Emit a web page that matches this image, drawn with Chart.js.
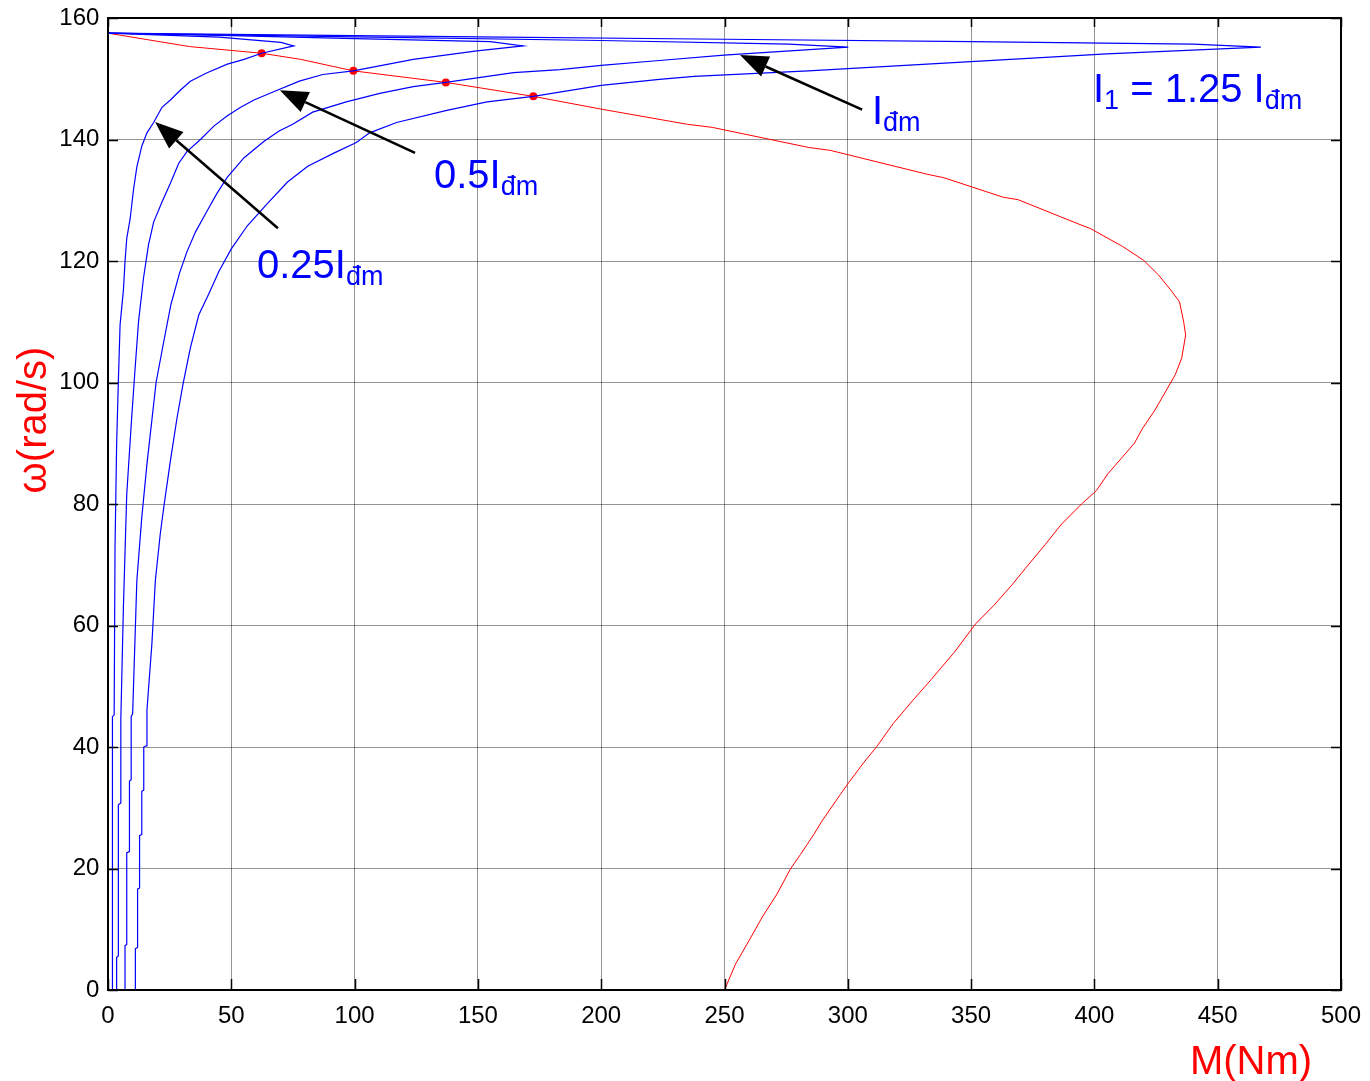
<!DOCTYPE html>
<html><head><meta charset="utf-8">
<script src="https://cdn.jsdelivr.net/npm/chart.js@4.4.0/dist/chart.umd.min.js"></script>
<style>html,body{margin:0;padding:0;background:#fff}</style>
</head><body>
<canvas id="c" width="1370" height="1081"></canvas>
<script>
// ---- data: [M (Nm), omega (rad/s)] ----
const xTickValues = [0,50,100,150,200,250,300,350,400,450,500];
const yTickValues = [0,20,40,60,80,100,120,140,160];

const naturalCurve = [[0,157.5],[33,155.3],[62.3,154.2],[78,153.2],[99.5,151.3],[137,149.4],[172.5,147.1],[200,145.0],[235,142.5],[245,142.0],[284,138.7],[293,138.2],[332,134.3],[339,133.7],[363,130.5],[369,130.1],[393.5,126.1],[398.6,125.3],[411.4,122.4],[420,120.1],[426,117.7],[431,115.2],[434.5,113.3],[436.2,110.0],[437,107.8],[435.4,104.0],[432.8,101.3],[428.3,98.1],[424.3,95.3],[419.6,92.5],[416.2,90],[410.9,87.5],[405.5,85],[400.8,82.2],[394.8,80],[386.7,76.7],[380,73.3],[372,69.4],[366.6,66.7],[359.2,63.3],[351.9,60.3],[343.2,55.6],[333.8,51.1],[326.2,47.6],[318.5,43.9],[311.8,40.1],[306.4,37.4],[300.3,34.1],[297,32.2],[289.5,27.8],[286.2,25.6],[280.8,22.3],[276.7,19.9],[271.3,15.8],[265.3,12.0],[259.9,8.1],[254.5,4.3],[250,0]];

const curve025 = [[1.8,0],[1.8,45],[2.5,45.3],[2.85,72.9],[3.5,89.8],[4.2,100.2],[4.9,109.5],[6.25,115.2],[6.9,119.9],[7.6,123.7],[9.0,127],[10.3,131.6],[11.7,135.5],[13.7,138.9],[15.8,141.1],[18.5,142.8],[21.9,145.3],[25.3,146.5],[29.3,148.1],[33.4,149.6],[40.2,151.0],[48.4,152.4],[55.2,153.2],[62.3,154.2],[75.3,155.4],[70.1,156.0],[45,156.85],[0,157.5]];

const curve05 = [[3.5,0],[3.5,5.4],[4.2,5.6],[4.2,30.5],[5.2,30.8],[5.2,44.5],[6.25,63.1],[7.6,81.6],[9.6,94.2],[11,102.4],[12.4,110.1],[14.4,117.2],[16.4,122.6],[18.5,126.4],[21.9,129.7],[25.3,132.8],[28.7,136.1],[32,138],[37.5,140],[42.9,142.2],[48.4,143.9],[53.8,145.3],[59.2,146.5],[67.4,147.9],[77.6,149.6],[87.1,150.7],[99.5,151.3],[123.8,153.2],[149.6,154.6],[168.3,155.4],[155,156.1],[100,156.6],[50,157.1],[0,157.5]];

const curve1 = [[6.9,0],[6.9,7.3],[7.6,7.5],[7.6,22.6],[8.7,22.8],[8.7,34.4],[9.4,34.6],[9.4,45],[10,45.5],[11.7,67.4],[13.7,77.8],[15.8,86.6],[19.5,100],[22.5,106.5],[25.5,112.8],[29,118],[32,121.5],[35.5,124.8],[40,128.1],[44,131],[48.4,133.8],[55.2,137],[63.3,139.7],[69.4,141.4],[74.9,142.5],[83,144.5],[96.6,146.2],[110.2,147.6],[123.8,148.7],[137,149.4],[164.5,151],[183.3,151.5],[200,152.2],[223.6,153],[249.8,153.9],[300.2,155.2],[276,155.7],[200,156.3],[100,156.9],[0,157.5]];

const curve125 = [[11.1,0],[11.1,6.8],[12,7],[12,16.6],[12.8,16.8],[12.8,25.4],[13.7,25.6],[13.7,32.7],[14.5,32.9],[14.5,40],[15.5,40.2],[15.8,46.1],[17.8,57],[19.2,67.4],[21.2,75.1],[22.8,80],[25.3,87.1],[28,94.2],[30.4,99.7],[33.4,105.7],[36.8,111.1],[40.9,114.6],[45,118.3],[50,122],[56.5,125.8],[64.7,129.5],[72.8,133],[81,135.6],[91.8,137.8],[100.7,139.5],[106.1,141.1],[117,142.8],[137.4,144.8],[153.7,146.2],[172.5,147.1],[200,148.9],[223.6,149.9],[237.7,150.4],[284,151.3],[344.6,152.7],[405,154.1],[467.5,155.2],[440,155.7],[350,156.1],[250,156.5],[150,156.9],[50,157.3],[0,157.5]];

const operatingPoints = [[62.3,154.2],[99.5,151.3],[137,149.4],[172.5,147.1]];

const toXY = a => a.map(p => ({x:p[0], y:p[1]}));
const BLUE = '#0000ff', RED = '#ff0000';

const annotations = {
  arrows: [
    {from:[68.9,125.4], to:[19.1,142.9]},
    {from:[124.5,137.8], to:[69.7,148.1]},
    {from:[305.8,144.9], to:[256.3,153.9]}
  ],
  labels: [
    {at:[60.4,117.2], parts:[['0.25I',0],['đm',1]]},
    {at:[132.2,132.0], parts:[['0.5I',0],['đm',1]]},
    {at:[309.8,142.5], parts:[['I',0],['đm',1]]},
    {at:[399.4,146.2], parts:[['I',0],['1',1],[' = 1.25 I',0],['đm',1]]}
  ]
};

const decor = {
  id:'decor',
  afterDraw(chart){
    const ctx = chart.ctx, a = chart.chartArea;
    const xs = chart.scales.x, ys = chart.scales.y;
    ctx.save();
    ctx.strokeStyle = '#000'; ctx.lineWidth = 1.5;
    ctx.beginPath();
    xTickValues.forEach(v => {
      const px = Math.round(xs.getPixelForValue(v))+0.5;
      ctx.moveTo(px, a.bottom); ctx.lineTo(px, a.bottom-11);
      ctx.moveTo(px, a.top); ctx.lineTo(px, a.top+9);
    });
    yTickValues.forEach(v => {
      const py = Math.round(ys.getPixelForValue(v))+0.5;
      ctx.moveTo(a.left, py); ctx.lineTo(a.left+10, py);
      ctx.moveTo(a.right, py); ctx.lineTo(a.right-10, py);
    });
    ctx.stroke();
    ctx.lineWidth = 2;
    ctx.strokeRect(a.left, a.top, a.right-a.left, a.bottom-a.top);
    annotations.arrows.forEach(ar => {
      const x1 = xs.getPixelForValue(ar.from[0]), y1 = ys.getPixelForValue(ar.from[1]);
      const x2 = xs.getPixelForValue(ar.to[0]), y2 = ys.getPixelForValue(ar.to[1]);
      const ang = Math.atan2(y2-y1, x2-x1), L = 28, W = 11;
      const bx = x2 - L*Math.cos(ang), by = y2 - L*Math.sin(ang);
      ctx.strokeStyle = '#000'; ctx.lineWidth = 2.5;
      ctx.beginPath(); ctx.moveTo(x1,y1); ctx.lineTo(bx,by); ctx.stroke();
      ctx.fillStyle = '#000';
      ctx.beginPath();
      ctx.moveTo(x2,y2);
      ctx.lineTo(bx + W*Math.sin(ang), by - W*Math.cos(ang));
      ctx.lineTo(bx - W*Math.sin(ang), by + W*Math.cos(ang));
      ctx.closePath(); ctx.fill();
    });
    ctx.fillStyle = BLUE; ctx.textBaseline = 'alphabetic'; ctx.textAlign = 'left';
    annotations.labels.forEach(lb => {
      let x = xs.getPixelForValue(lb.at[0]); const y = ys.getPixelForValue(lb.at[1]);
      lb.parts.forEach(([t, sub]) => {
        ctx.font = sub ? '27px "Liberation Sans", Arial, sans-serif' : '40px "Liberation Sans", Arial, sans-serif';
        ctx.fillText(t, x, sub ? y+7 : y);
        x += ctx.measureText(t).width;
      });
    });
    ctx.fillStyle = RED;
    ctx.font = '40px "Liberation Sans", Arial, sans-serif';
    ctx.textAlign = 'center';
    ctx.fillText('M(Nm)', 1251, 1074);
    ctx.save();
    ctx.translate(46, 420); ctx.rotate(-Math.PI/2);
    ctx.fillText('ω(rad/s)', 0, 0);
    ctx.restore();
    ctx.restore();
  }
};

const lineDs = (label, arr, color, w) => ({
  label, data: toXY(arr), showLine:true, borderColor:color, backgroundColor:color,
  borderWidth:w, pointRadius:0, tension:0, fill:false
});

new Chart(document.getElementById('c'), {
  type:'scatter',
  data:{ datasets:[
    lineDs('0.25 Iđm', curve025, BLUE, 1.2),
    lineDs('0.5 Iđm', curve05, BLUE, 1.2),
    lineDs('Iđm', curve1, BLUE, 1.2),
    lineDs('1.25 Iđm', curve125, BLUE, 1.2),
    lineDs('natural', naturalCurve, RED, 1),
    {label:'points', data:toXY(operatingPoints), showLine:false, pointRadius:4, pointBackgroundColor:RED, pointBorderColor:RED, borderWidth:0}
  ]},
  options:{
    responsive:false, animation:false,
    layout:{padding:{left:0, right:29, top:18, bottom:0}},
    plugins:{legend:{display:false}, tooltip:{enabled:false}},
    scales:{
      x:{ type:'linear', min:0, max:500,
        afterBuildTicks(s){ s.ticks = xTickValues.map(v=>({value:v})); },
        afterFit(s){ s.height = 91; s.paddingLeft = 0; s.paddingRight = 0; },
        grid:{ color:'rgba(0,0,0,0.42)', lineWidth:1, drawTicks:false },
        border:{ display:true, color:'#000', width:2 },
        ticks:{ color:'#000', padding:12, maxRotation:0, autoSkip:false, font:{family:'"Liberation Sans", Arial, sans-serif', size:24} }
      },
      y:{ type:'linear', min:0, max:160,
        afterBuildTicks(s){ s.ticks = yTickValues.map(v=>({value:v})); },
        afterFit(s){ s.width = 108; s.paddingTop = 0; s.paddingBottom = 0; },
        grid:{ color:'rgba(0,0,0,0.42)', lineWidth:1, drawTicks:false },
        border:{ display:true, color:'#000', width:2 },
        ticks:{ color:'#000', padding:2, callback: v => v + ' ', font:{family:'"Liberation Sans", Arial, sans-serif', size:24} }
      }
    }
  },
  plugins:[decor]
});
</script>
</body></html>
